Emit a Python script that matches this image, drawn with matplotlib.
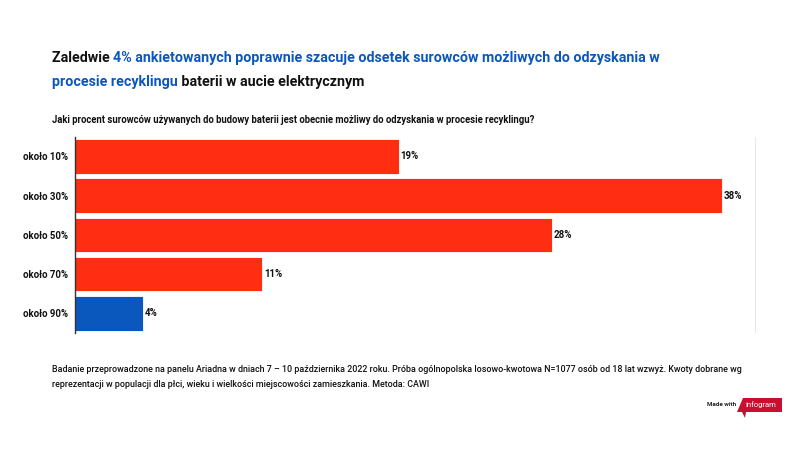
import matplotlib.pyplot as plt
from matplotlib.patches import Polygon

plt.rcParams['font.family'] = ['Roboto', 'DejaVu Sans']

categories = ['około 10%', 'około 30%', 'około 50%', 'około 70%', 'około 90%']
values = [19, 38, 28, 11, 4]
colors = ['#FF2D12', '#FF2D12', '#FF2D12', '#FF2D12', '#0A57BE']

title_parts = [
    ('Zaledwie ', '#111111'),
    ('4% ankietowanych poprawnie szacuje odsetek surowców możliwych do odzyskania w', '#0A57BE'),
]
title_parts2 = [
    ('procesie recyklingu', '#0A57BE'),
    (' baterii w aucie elektrycznym', '#111111'),
]
subtitle = 'Jaki procent surowców używanych do budowy baterii jest obecnie możliwy do odzyskania w procesie recyklingu?'
footer = ('Badanie przeprowadzone na panelu Ariadna w dniach 7 – 10 października 2022 roku. Próba ogólnopolska losowo-kwotowa N=1077 osób od 18 lat wzwyż. Kwoty dobrane wg\n'
          'reprezentacji w populacji dla płci, wieku i wielkości miejscowości zamieszkania. Metoda: CAWI')

fig = plt.figure(figsize=(8, 4.5), dpi=100)
ax = fig.add_axes([0.094, 0.26, 0.851, 0.436])

y = list(range(len(categories)))
ax.barh(y, values, height=0.88, color=colors, edgecolor='#ffffff', linewidth=0.6)
ax.set_ylim(len(categories) - 0.5, -0.5)
ax.set_xlim(0, 40)
ax.set_yticks(y)
ax.set_yticklabels(categories, fontsize=6.9, fontweight='bold', color='#111111')
ax.tick_params(axis='y', length=0, pad=5)
ax.set_xticks([])
for s in ['top', 'bottom', 'right']:
    ax.spines[s].set_visible(False)
ax.spines['left'].set_color('#333333')
ax.spines['left'].set_linewidth(1.0)
ax.axvline(40, color='#e3e3e3', linewidth=1.2, zorder=0)

for yi, v in zip(y, values):
    ax.text(v + 0.1, yi, f'{v}%', va='center', ha='left', fontsize=7,
            fontweight='bold', color='#111111')

# multi-colour title
renderer = fig.canvas.get_renderer()
def draw_line(parts, xpix, ypix):
    for txt, col in parts:
        t = fig.text(xpix / 800, 1 - ypix / 450, txt, fontsize=10.3, fontweight='bold',
                     color=col, va='center', ha='left')
        bb = t.get_window_extent(renderer=renderer)
        xpix += bb.width

draw_line(title_parts, 52, 58)
draw_line(title_parts2, 52, 82)

fig.text(52 / 800, 1 - 120 / 450, subtitle, fontsize=6.85, fontweight='bold',
         color='#111111', va='center', ha='left')
fig.text(52 / 800, 1 - 377 / 450, footer, fontsize=6.4, fontweight='medium',
         color='#111111', va='center', ha='left', linespacing=1.75)

# "Made with infogram" badge
fig.text(736 / 800, 1 - 405 / 450, 'Made with', fontsize=4.5, fontweight='bold',
         color='#222222', va='center', ha='right')
badge = Polygon([(743 / 800, 1 - 398 / 450), (782 / 800, 1 - 398 / 450),
                 (782 / 800, 1 - 412 / 450), (746 / 800, 1 - 412 / 450),
                 (745 / 800, 1 - 418 / 450), (742 / 800, 1 - 412 / 450),
                 (737 / 800, 1 - 412 / 450)],
                closed=True, transform=fig.transFigure, facecolor='#C8102E',
                edgecolor='none')
fig.patches.append(badge)
fig.text(761 / 800, 1 - 405 / 450, 'infogram', fontsize=5.5, color='white',
         va='center', ha='center')

fig.savefig('out.png', dpi=100)
